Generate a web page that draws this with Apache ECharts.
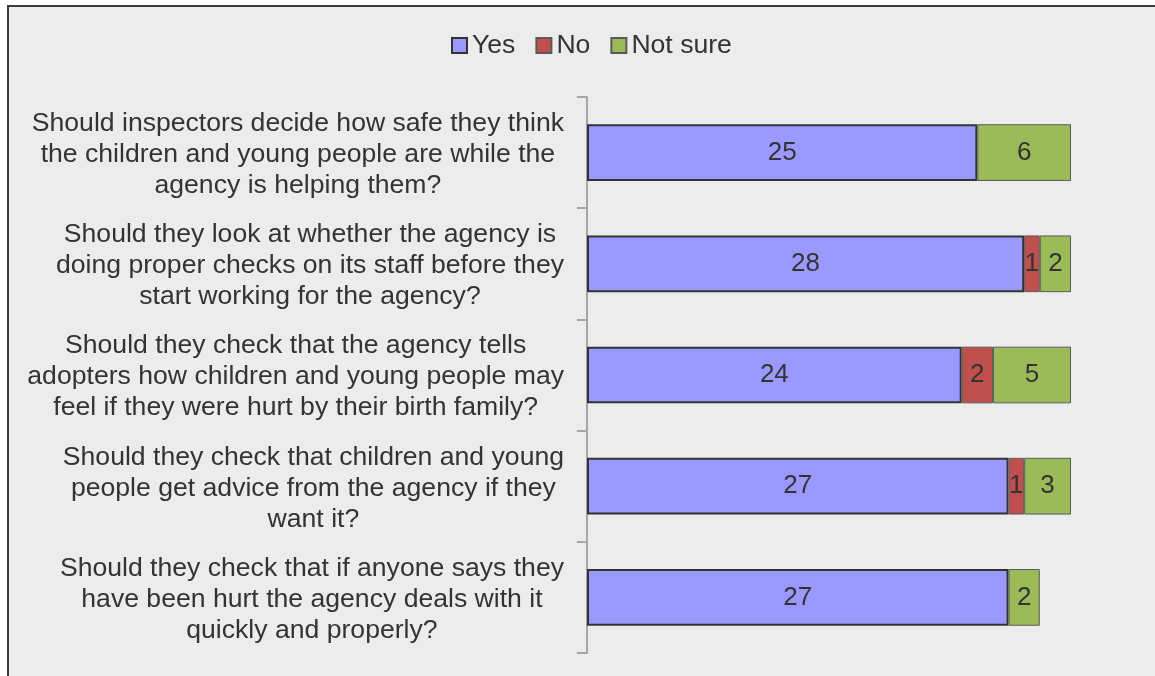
<!DOCTYPE html>
<html>
<head>
<meta charset="utf-8">
<script src="https://cdn.jsdelivr.net/npm/echarts@6/dist/echarts.min.js"></script>
<style>
  html, body { margin: 0; padding: 0; background: #ffffff; width: 1155px; height: 676px; overflow: hidden; }
  #frame { position: absolute; left: 7px; top: 5px; width: 1200px; height: 720px; background: #ececec;
           border-left: 2px solid #3a3a3a; border-top: 2px solid #3a3a3a; }
  #chart { position: absolute; left: 0; top: 0; width: 1155px; height: 676px; }
</style>
</head>
<body>
<div id="frame"></div>
<div id="chart"></div>
<script>
const categories = [
  "Should inspectors decide how safe they think\nthe children and young people are while the\nagency is helping them?",
  "Should they look at whether the agency is\ndoing proper checks on its staff before they\nstart working for the agency?",
  "Should they check that the agency tells\nadopters how children and young people may\nfeel if they were hurt by their birth family?",
  "Should they check that children and young\npeople get advice from the agency if they\nwant it?",
  "Should they check that if anyone says they\nhave been hurt the agency deals with it\nquickly and properly?"
];
const seriesNames = ["Yes", "No", "Not sure"];
const yesValues = [25, 28, 24, 27, 27];
const noValues = [null, 1, 2, 1, null];
const notSureValues = [6, 2, 5, 3, 2];

const FONT = "'Liberation Sans', Arial, sans-serif";
const TXT = '#333333';
const FS = 26.6;

const chart = echarts.init(document.getElementById('chart'), null, { renderer: 'canvas' });

function mkSeries(name, data, color, bColor, bWidth) {
  return {
    name: name,
    type: 'bar',
    stack: 'total',
    data: data,
    barWidth: '51%',
    itemStyle: { color: color, borderColor: bColor, borderWidth: bWidth },
    label: {
      show: true, position: 'inside', color: TXT, fontSize: 26, fontFamily: FONT,
      formatter: p => (p.value == null ? '' : String(p.value))
    },
    emphasis: { disabled: true }
  };
}

chart.setOption({
  backgroundColor: 'transparent',
  animation: false,
  textStyle: { fontFamily: FONT },
  legend: {
    data: seriesNames,
    left: 446,
    top: 27,
    itemWidth: 15,
    itemHeight: 15,
    itemGap: 20,
    icon: 'rect',
    textStyle: { fontSize: FS, color: TXT, fontFamily: FONT },
    selectedMode: false
  },
  grid: { left: 587, right: 84, top: 97, bottom: 23, containLabel: false },
  xAxis: {
    type: 'value',
    min: 0,
    max: 31,
    show: false
  },
  yAxis: {
    type: 'category',
    data: categories,
    inverse: true,
    axisLine: { show: true, lineStyle: { color: '#a6a6a6', width: 2 } },
    axisTick: { show: true, length: 10, lineStyle: { color: '#a6a6a6', width: 2 } },
    axisLabel: {
      margin: 23,
      align: 'right',
      color: TXT,
      fontSize: FS,
      fontFamily: FONT,
      padding: [4, 0, 0, 0],
      formatter: v => v.split('\n').map(l => '{c|' + l + '}').join('\n'),
      rich: { c: { align: 'center', fontSize: FS, lineHeight: 31, color: TXT, fontFamily: FONT } }
    }
  },
  series: [
    mkSeries('Yes', yesValues, '#9999ff', '#333333', 2),
    mkSeries('No', noValues, '#c0504d', '#5a5a5a', 1),
    mkSeries('Not sure', notSureValues, '#9bbb59', '#5a5a5a', 1)
  ]
});
</script>
</body>
</html>
